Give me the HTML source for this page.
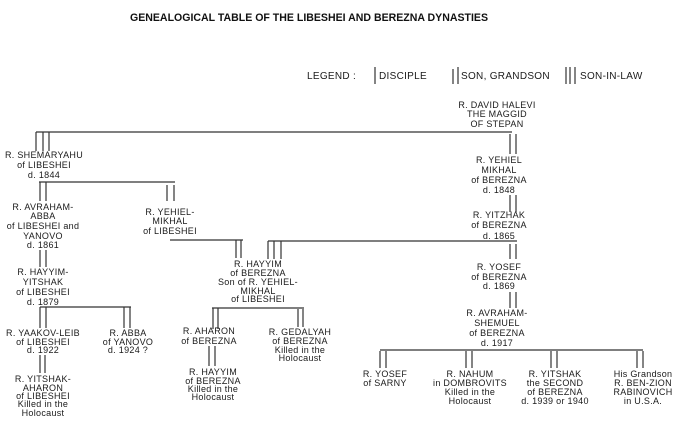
<!DOCTYPE html>
<html><head><meta charset="utf-8"><style>
html,body{margin:0;padding:0;background:#fff;}
svg{display:block}
text{font-family:"Liberation Sans",sans-serif;font-size:9px;fill:#1a1a1a;text-anchor:middle;letter-spacing:0.3px}
line{stroke:#333;stroke-width:1.2}
</style></head><body>
<svg width="699" height="430" viewBox="0 0 699 430">
<text x="130" y="21" textLength="358" lengthAdjust="spacingAndGlyphs" style="text-anchor:start;font-size:11px;font-weight:bold;letter-spacing:0;fill:#111">GENEALOGICAL TABLE OF THE LIBESHEI AND BEREZNA  DYNASTIES</text>
<text x="307" y="79" style="text-anchor:start;font-size:10px">LEGEND :</text>
<text x="379" y="79" style="text-anchor:start;font-size:10px">DISCIPLE</text>
<text x="461" y="79" style="text-anchor:start;font-size:10px">SON, GRANDSON</text>
<text x="580" y="79" style="text-anchor:start;font-size:10px">SON-IN-LAW</text>
<line x1="375" y1="67" x2="375" y2="84"/>
<line x1="453" y1="69" x2="453" y2="84"/><line x1="458" y1="67" x2="458" y2="84"/>
<line x1="566" y1="67" x2="566" y2="84"/><line x1="570" y1="67" x2="570" y2="84"/><line x1="575" y1="67" x2="575" y2="84"/>

<text x="497" y="108">R. DAVID HALEVI</text><text x="497" y="117">THE MAGGID</text><text x="497" y="127">OF STEPAN</text>
<line x1="36" y1="132" x2="512" y2="132"/>
<line x1="36" y1="132" x2="36" y2="151"/><line x1="43" y1="132" x2="43" y2="151"/><line x1="49" y1="132" x2="49" y2="151"/>
<line x1="510" y1="134" x2="510" y2="154"/><line x1="516" y1="134" x2="516" y2="154"/>

<text x="44" y="158">R. SHEMARYAHU</text><text x="44" y="168">of LIBESHEI</text><text x="44" y="178">d. 1844</text>
<line x1="39" y1="182" x2="175" y2="182"/>
<line x1="40" y1="182" x2="40" y2="201"/><line x1="46" y1="182" x2="46" y2="201"/>
<line x1="167" y1="185" x2="167" y2="201"/><line x1="174" y1="185" x2="174" y2="201"/>

<text x="43" y="210">R. AVRAHAM-</text><text x="43" y="219">ABBA</text><text x="43" y="229">of LIBESHEI and</text><text x="43" y="239">YANOVO</text><text x="43" y="248">d. 1861</text>
<text x="170" y="215">R. YEHIEL-</text><text x="170" y="224">MIKHAL</text><text x="170" y="234">of LIBESHEI</text>

<line x1="40" y1="250" x2="40" y2="267"/><line x1="46" y1="250" x2="46" y2="267"/>
<text x="43" y="275">R. HAYYIM-</text><text x="43" y="285">YITSHAK</text><text x="43" y="295">of LIBESHEI</text><text x="43" y="305">d. 1879</text>

<line x1="170" y1="240" x2="243" y2="240"/>
<line x1="236" y1="240" x2="236" y2="258"/><line x1="241" y1="240" x2="241" y2="258"/>
<line x1="268" y1="241" x2="517" y2="241"/>
<line x1="268" y1="241" x2="268" y2="259"/><line x1="274" y1="241" x2="274" y2="259"/><line x1="281" y1="241" x2="281" y2="259"/>

<text x="499" y="163">R. YEHIEL</text><text x="499" y="173">MIKHAL</text><text x="499" y="183">of BEREZNA</text><text x="499" y="193">d. 1848</text>
<line x1="510" y1="195" x2="510" y2="212"/><line x1="516" y1="195" x2="516" y2="212"/>
<text x="499" y="218">R. YITZHAK</text><text x="499" y="228">of BEREZNA</text><text x="499" y="239">d. 1865</text>
<line x1="510" y1="244" x2="510" y2="259"/><line x1="516" y1="244" x2="516" y2="259"/>
<text x="499" y="270">R. YOSEF</text><text x="499" y="280">of BEREZNA</text><text x="499" y="289">d. 1869</text>
<line x1="510" y1="292" x2="510" y2="308"/><line x1="516" y1="292" x2="516" y2="308"/>
<text x="497" y="316">R. AVRAHAM-</text><text x="497" y="326">SHEMUEL</text><text x="497" y="336">of BEREZNA</text><text x="497" y="346">d. 1917</text>

<line x1="380" y1="350" x2="643" y2="350"/>
<line x1="380" y1="351" x2="380" y2="368"/><line x1="386" y1="351" x2="386" y2="368"/>
<line x1="466" y1="351" x2="466" y2="368"/><line x1="472" y1="351" x2="472" y2="368"/>
<line x1="551" y1="351" x2="551" y2="368"/><line x1="557" y1="351" x2="557" y2="368"/>
<line x1="637" y1="351" x2="637" y2="368"/><line x1="643" y1="351" x2="643" y2="368"/>
<text x="385" y="377">R. YOSEF</text><text x="385" y="386">of SARNY</text>
<text x="470" y="377">R. NAHUM</text><text x="470" y="386">in DOMBROVITS</text><text x="470" y="395">Killed in the</text><text x="470" y="404">Holocaust</text>
<text x="555" y="377">R. YITSHAK</text><text x="555" y="386">the SECOND</text><text x="555" y="395">of BEREZNA</text><text x="555" y="404">d. 1939 or 1940</text>
<text x="643" y="377">His Grandson</text><text x="643" y="386">R. BEN-ZION</text><text x="643" y="395">RABINOVICH</text><text x="643" y="404">in U.S.A.</text>

<text x="258" y="267">R. HAYYIM</text><text x="258" y="276">of BEREZNA</text><text x="258" y="285">Son of R. YEHIEL-</text><text x="258" y="294">MIKHAL</text><text x="258" y="302">of LIBESHEI</text>
<line x1="212" y1="308" x2="304" y2="308"/>
<line x1="213" y1="308" x2="213" y2="329"/><line x1="218" y1="308" x2="218" y2="329"/>
<line x1="298" y1="309" x2="298" y2="327"/><line x1="303" y1="309" x2="303" y2="327"/>
<text x="209" y="334">R. AHARON</text><text x="209" y="344">of BEREZNA</text>
<line x1="209" y1="346" x2="209" y2="366"/><line x1="215" y1="346" x2="215" y2="366"/>
<text x="213" y="375">R. HAYYIM</text><text x="213" y="384">of BEREZNA</text><text x="213" y="392">Killed in the</text><text x="213" y="400">Holocaust</text>
<text x="300" y="335">R. GEDALYAH</text><text x="300" y="344">of BEREZNA</text><text x="300" y="353">Killed in the</text><text x="300" y="361">Holocaust</text>

<line x1="40" y1="307" x2="131" y2="307"/>
<line x1="40" y1="307" x2="40" y2="328"/><line x1="46" y1="307" x2="46" y2="328"/>
<line x1="124" y1="307" x2="124" y2="328"/><line x1="130" y1="307" x2="130" y2="328"/>
<text x="43" y="336">R. YAAKOV-LEIB</text><text x="43" y="345">of LIBESHEI</text><text x="43" y="353">d. 1922</text>
<text x="128" y="336">R. ABBA</text><text x="128" y="345">of YANOVO</text><text x="128" y="353">d. 1924 ?</text>
<line x1="40" y1="355" x2="40" y2="373"/><line x1="45" y1="355" x2="45" y2="373"/>
<text x="43" y="382">R. YITSHAK-</text><text x="43" y="391">AHARON</text><text x="43" y="399">of LIBESHEI</text><text x="43" y="407">Killed in the</text><text x="43" y="416">Holocaust</text>
</svg>
</body></html>
